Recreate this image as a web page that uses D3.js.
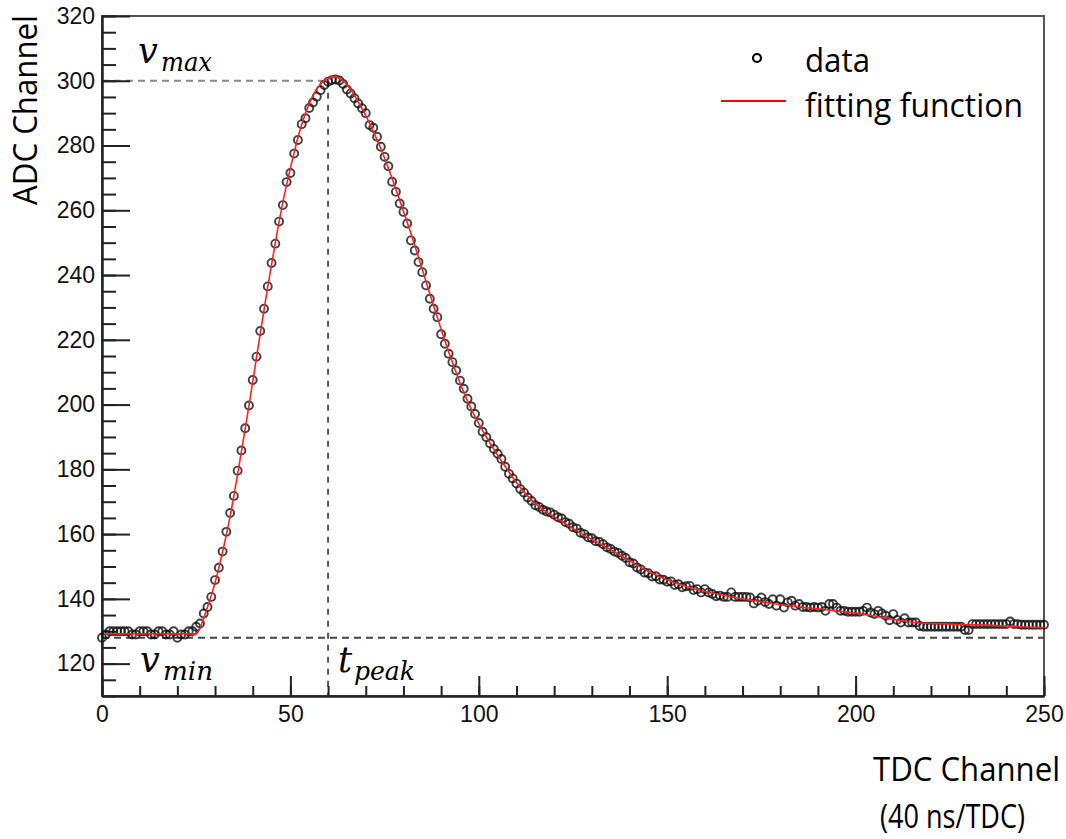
<!DOCTYPE html>
<html>
<head>
<meta charset="utf-8">
<script src="https://cdn.jsdelivr.net/npm/d3@7"></script>
<style>
  body { margin: 0; background: #fff; }
  svg { display: block; }
  .axis text { font-family: "Liberation Sans", Arial, sans-serif; font-size: 23px; fill: #111; }
  .axis path, .axis line { stroke: #222; }
  .title { font-family: "Open Sans", "Noto Sans", sans-serif; font-size: 32px; fill: #000; }
  .math { font-family: "DejaVu Serif", serif; font-style: italic; fill: #000; }
</style>
</head>
<body>
<div id="graph"></div>
<script>
// measured ADC value, one per TDC channel (index = channel 0..250)
var adcValues = [
  128, 129, 130, 130, 130, 130, 130, 130, 129, 129,
  130, 130, 130, 129, 129, 130, 130, 129, 129, 130,
  128, 129, 129, 130, 130, 131.4, 132.4, 135.5, 137.5, 140.6,
  145.8, 149.6, 154.6, 160.7, 166.5, 171.8, 179.6, 185.8, 192.7, 199.7,
  207.6, 214.8, 222.7, 229.6, 236.5, 243.7, 249.7, 256.5, 261.6, 268.7,
  271.5, 277.5, 281.7, 286.6, 288.4, 291.6, 293.3, 295.1, 297.1, 298.7,
  299.7, 300.2, 300.4, 300.1, 299.0, 297.3, 296.1, 294.6, 293.0, 291.5,
  290.0, 286.3, 285.5, 282.7, 279.6, 276.5, 273.6, 268.8, 265.7, 262.1,
  259.5, 255.9, 250.7, 247.6, 244.0, 240.9, 236.8, 232.7, 229.6, 227.0,
  221.7, 218.8, 215.7, 213.1, 210.5, 207.4, 204.9, 201.8, 199.4, 197.1,
  194.3, 191.6, 189.9, 188.0, 186.3, 184.8, 183.2, 180.8, 178.6, 177.2,
  175.6, 173.9, 172.8, 171.3, 170.2, 168.9, 168.4, 167.5, 167.0, 166.7,
  166.0, 165.2, 164.8, 163.7, 163.2, 162.1, 161.7, 160.4, 160.0, 159.0,
  158.7, 157.8, 157.6, 156.9, 155.9, 155.4, 154.6, 154.2, 153.3, 152.6,
  151.3, 150.9, 149.7, 149.1, 148.1, 147.9, 146.9, 147.0, 146.0, 145.9,
  145.3, 145.4, 144.3, 144.5, 143.6, 143.9, 144.0, 142.7, 143.0, 142.0,
  143.0, 142.0, 141.5, 140.8, 141.0, 140.6, 140.6, 142.0, 140.6, 140.6,
  140.6, 140.6, 140.4, 138.6, 139.4, 140.4, 139.0, 138.4, 139.9, 137.9,
  139.9, 137.3, 138.9, 139.4, 137.9, 138.4, 137.5, 137.5, 137.3, 137.5,
  137.3, 137.5, 136.3, 138.4, 138.4, 137.3, 136.3, 136.3, 136.0, 136.0,
  136.0, 136.0, 136.3, 137.3, 135.8, 135.3, 136.3, 135.5, 134.8, 133.4,
  135.3, 133.5, 132.7, 134.0, 132.7, 132.7, 132.7, 131.6, 131.4, 131.4,
  131.4, 131.4, 131.4, 131.4, 131.4, 131.4, 131.4, 131.4, 131.4, 130.4,
  130.4, 132.2, 132.2, 132.2, 132.2, 132.2, 132.2, 132.2, 132.2, 132.2,
  132.2, 133.0, 132.2, 132.2, 132.0, 132.0, 132.0, 132.0, 132.0, 132.0,
  132.0
];

// fitting function, sampled
var fitTdc = [1, 25, 26, 27, 28, 29, 30, 32, 34, 36, 38, 40, 42, 44, 46, 48, 50, 52, 54, 56, 58,
  60, 62, 64, 66, 68, 70, 72, 74, 76, 78, 80, 82, 84, 86, 88, 90, 92, 94, 96, 98, 100,
  103, 106, 110, 114, 118, 122, 126, 130, 135, 140, 145, 150, 155, 160, 165, 170, 175,
  180, 185, 190, 195, 200, 205, 210, 215, 220, 225, 230, 235, 240, 245, 250];
var fitAdc = [129.2, 129.2, 131, 134, 137.5, 141, 145, 154.5, 165.5, 178.5, 192.5, 207, 222, 236.5, 250, 262.5, 273, 282.5, 290, 295.5, 299,
  300.8, 301.2, 300.0, 297.3, 293.5, 289.2, 284.3, 279, 273, 266.5, 259.7, 252.8, 245.5, 238, 230.5, 223.3, 216.3, 209.8, 203.8, 198.6, 194.1,
  188.0, 182.6, 175.9, 170.5, 166.8, 163.9, 161.0, 158.4, 155.2, 151.8, 148.5, 145.8, 143.8, 142.3, 141.1, 140.0, 139.1,
  138.2, 137.5, 136.9, 136.3, 135.6, 134.7, 133.6, 132.8, 132.4, 132.2, 132.0, 131.9, 131.6, 131.3, 131.1];

var xMajorTicks = [0, 50, 100, 150, 200, 250];
var yMajorTicks = [120, 140, 160, 180, 200, 220, 240, 260, 280, 300, 320];
var vMax = 300, vMin = 128, tPeak = 60;
var legendLabels = ["data", "fitting function"];

var width = 1066, height = 839;
var margin = {top: 16, right: 22, bottom: 143, left: 102};

var svg = d3.select("#graph").append("svg")
  .attr("width", width)
  .attr("height", height);

var x = d3.scaleLinear().domain([0, 250]).range([margin.left, width - margin.right]);
var y = d3.scaleLinear().domain([110, 320]).range([height - margin.bottom, margin.top]);

// frame
svg.append("rect")
  .attr("x", x(0)).attr("y", y(320))
  .attr("width", x(250) - x(0)).attr("height", y(110) - y(320))
  .attr("fill", "none").attr("stroke", "#555").attr("stroke-width", 2);

// reference dashed lines
svg.append("line")
  .attr("x1", x(0)).attr("x2", x(tPeak)).attr("y1", y(vMax)).attr("y2", y(vMax))
  .attr("stroke", "#888").attr("stroke-width", 2).attr("stroke-dasharray", "7,5");
svg.append("line")
  .attr("x1", x(tPeak)).attr("x2", x(tPeak)).attr("y1", y(vMax)).attr("y2", y(110))
  .attr("stroke", "#555").attr("stroke-width", 2).attr("stroke-dasharray", "6,6");
svg.append("line")
  .attr("x1", x(0)).attr("x2", x(250)).attr("y1", y(vMin)).attr("y2", y(vMin))
  .attr("stroke", "#444").attr("stroke-width", 2).attr("stroke-dasharray", "7,5");

// axes
var yAxis = d3.axisLeft(y).tickValues(yMajorTicks).tickSize(-28).tickSizeOuter(0).tickPadding(7);
var yMinor = d3.axisLeft(y).tickValues(d3.range(110, 321, 5)).tickSize(-14).tickSizeOuter(0).tickFormat("");
var xAxis = d3.axisBottom(x).tickValues(xMajorTicks).tickSize(-20).tickSizeOuter(0).tickPadding(10);
var xMinor = d3.axisBottom(x).tickValues(d3.range(0, 251, 10)).tickSize(-10).tickSizeOuter(0).tickFormat("");

svg.append("g").attr("class", "axis").attr("transform", "translate(" + x(0) + ",0)").call(yMinor)
  .select(".domain").remove();
svg.append("g").attr("class", "axis").attr("transform", "translate(0," + y(110) + ")").call(xMinor)
  .select(".domain").remove();
var gy = svg.append("g").attr("class", "axis").attr("transform", "translate(" + x(0) + ",0)").call(yAxis);
var gx = svg.append("g").attr("class", "axis").attr("transform", "translate(0," + y(110) + ")").call(xAxis);
svg.selectAll(".axis line").attr("stroke-width", 2);
svg.selectAll(".axis .domain").attr("stroke-width", 2.5);

// data points
svg.append("g").selectAll("circle")
  .data(adcValues)
  .enter().append("circle")
  .attr("cx", function(d, i) { return x(i); })
  .attr("cy", function(d) { return y(d); })
  .attr("r", 4)
  .attr("fill", "none")
  .attr("stroke", "#111")
  .attr("stroke-opacity", 0.8)
  .attr("stroke-width", 1.9);

// fitting function
var fitLine = d3.line()
  .x(function(d, i) { return x(fitTdc[i]); })
  .y(function(d) { return y(d); })
  .curve(d3.curveMonotoneX);
svg.append("path")
  .attr("d", fitLine(fitAdc))
  .attr("fill", "none")
  .attr("stroke", "#f22")
  .attr("stroke-width", 1.6);

// legend
svg.append("circle").attr("cx", 757).attr("cy", 58).attr("r", 4)
  .attr("fill", "none").attr("stroke", "#000").attr("stroke-width", 2.2);
svg.append("line").attr("x1", 721).attr("x2", 786).attr("y1", 101).attr("y2", 101)
  .attr("stroke", "red").attr("stroke-width", 2.2);
svg.append("text").attr("class", "title").attr("x", 805).attr("y", 72)
  .attr("textLength", 65).attr("lengthAdjust", "spacingAndGlyphs").text(legendLabels[0]);
svg.append("text").attr("class", "title").attr("x", 805).attr("y", 117)
  .attr("textLength", 218).attr("lengthAdjust", "spacingAndGlyphs").text(legendLabels[1]);

// axis titles
svg.append("text").attr("class", "title")
  .attr("transform", "translate(37,205) rotate(-90)")
  .attr("textLength", 190).attr("lengthAdjust", "spacingAndGlyphs").text("ADC Channel");
svg.append("text").attr("class", "title").attr("x", 873).attr("y", 781)
  .attr("textLength", 187).attr("lengthAdjust", "spacingAndGlyphs").text("TDC Channel");
svg.append("text").attr("class", "title").attr("x", 880).attr("y", 828)
  .attr("textLength", 145).attr("lengthAdjust", "spacingAndGlyphs").text("(40 ns/TDC)");

// math annotations
function mathLabel(px, py, main, sub, subLen) {
  var t = svg.append("text").attr("class", "math");
  t.append("tspan").attr("x", px).attr("y", py).attr("font-size", 35).text(main);
  t.append("tspan").attr("x", px + (main === "t" ? 16 : 23)).attr("y", py + 8).attr("font-size", 26)
    .attr("textLength", subLen).attr("lengthAdjust", "spacingAndGlyphs").text(sub);
}
mathLabel(138, 63, "v", "max", 51);
mathLabel(140, 672, "v", "min", 50);
mathLabel(338, 672, "t", "peak", 61);
</script>
</body>
</html>
